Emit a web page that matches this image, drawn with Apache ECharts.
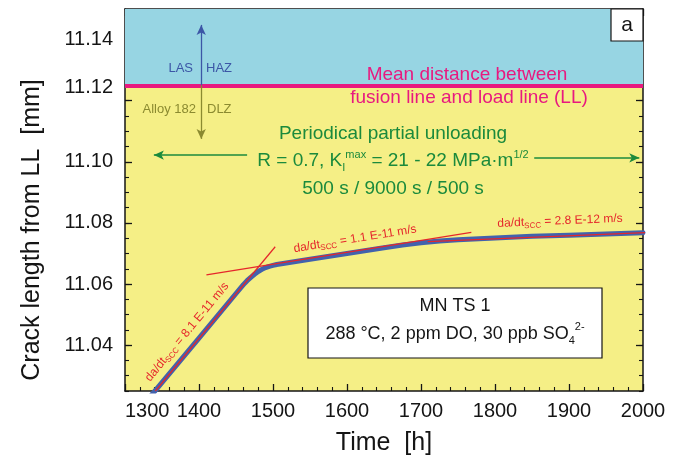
<!DOCTYPE html>
<html lang="en">
<head>
<meta charset="UTF-8">
<title>Crack length from LL vs time</title>
<script src="https://cdn.jsdelivr.net/npm/echarts@6/dist/echarts.min.js"></script>
<style>
    html, body { margin: 0; padding: 0; background: #fff; }
    #main { width: 682px; height: 461px; }
</style>
</head>
<body>
<div id="main"></div>
<script>
    // measured crack length (blue curve)
    var time  = [1336, 1400, 1450, 1460, 1465, 1470, 1475, 1480, 1485, 1490, 1495, 1500, 1505, 1550, 1600, 1650, 1675, 1700, 1725, 1750, 1800, 1850, 1900, 1950, 2000];
    var crack = [11.0237, 11.0423, 11.0569, 11.0598, 11.0611, 11.0622, 11.0632, 11.0641, 11.0648, 11.0654, 11.0658, 11.0661, 11.0664, 11.0681, 11.0700, 11.0719, 11.0728, 11.0735, 11.0741, 11.0745, 11.0751, 11.0756, 11.0760, 11.0764, 11.0768];

    // fitted da/dt lines (red)
    var fit1T = [1341, 1503],  fit1V = [11.025, 11.0722];   // 8.1 E-11 m/s
    var fit2T = [1410, 1768],  fit2V = [11.063, 11.0769];   // 1.1 E-11 m/s
    var fit3T = [1709, 2027],  fit3V = [11.0739, 11.0771];  // 2.8 E-12 m/s

    // axes
    var xTicks = [1300, 1400, 1500, 1600, 1700, 1800, 1900, 2000];
    var yTicks = [11.04, 11.06, 11.08, 11.10, 11.12, 11.14];
    var llLevel = 11.125;   // fusion line / load line distance

    function pairs(a, b) {
        return a.map(function (v, i) { return [v, b[i]]; });
    }

    var font = '"Liberation Sans", Arial, sans-serif';
    var ink = '#151515';
    var red = '#e5262b', green = '#1b8a3c', pink = '#e8197f', blue = '#3c56a6', olive = '#8b8a30';

    var axLine = { show: true, onZero: false, lineStyle: { color: ink, width: 1.5 } };

    function xAxisOf(pos) {
        return {
            type: 'value', position: pos, min: xTicks[0], max: xTicks[xTicks.length - 1], interval: 100,
            axisLine: axLine, splitLine: { show: false },
            axisTick: { show: true, inside: true, length: 7, lineStyle: { color: ink, width: 1.3 } },
            minorTick: { show: true, splitNumber: 5, length: 4, lineStyle: { color: ink, width: 1.1 } },
            axisLabel: pos === 'bottom' ? {
                fontFamily: font, fontSize: 20, color: ink, margin: 10,
                showMinLabel: true, showMaxLabel: true, hideOverlap: false, alignMinLabel: 'left',
                formatter: function (v) { return String(v); }
            } : { show: false },
            name: pos === 'bottom' ? 'Time  [h]' : '', nameLocation: 'middle', nameGap: 40, nameMoveOverlap: false,
            nameTextStyle: { fontFamily: font, fontSize: 25, color: ink }
        };
    }

    function yAxisOf(pos, major) {
        var ax = {
            type: 'value', position: pos, min: 11.025, max: 11.15, interval: 0.005,
            axisLine: major ? { show: false } : axLine, splitLine: { show: false },
            axisTick: { show: true, inside: true, length: major ? 7 : 4, lineStyle: { color: ink, width: major ? 1.3 : 1.1 } },
            axisLabel: { show: false }
        };
        if (major) ax.axisTick.customValues = yTicks;
        if (pos === 'left' && !major) {
            ax.axisLabel = {
                show: true, customValues: yTicks, fontFamily: font, fontSize: 20, color: ink, margin: 12,
                formatter: function (v) {
                    var s = v.toFixed(2);
                    // the 11.12 label sits a little higher in the original figure
                    return Math.abs(v - 11.12) < 1e-6 ? '{up|' + s + '}' : s;
                },
                rich: { up: { fontFamily: font, fontSize: 20, color: ink, padding: [0, 0, 26, 0] } }
            };
            ax.name = 'Crack length from LL  [mm]';
            ax.nameLocation = 'middle';
            ax.nameGap = 80;
            ax.nameMoveOverlap = false;
            ax.nameTextStyle = { fontFamily: font, fontSize: 25, color: ink, padding: [0, 60, 0, 0] };
        }
        return ax;
    }

    function txt(x, y, text, size, color, align, extra) {
        var el = {
            type: 'text', x: x, y: y, z: 20, silent: true,
            style: {
                text: text, fill: color, fontSize: size, fontFamily: font,
                align: align || 'center', textAlign: align || 'center',
                verticalAlign: 'middle', textVerticalAlign: 'middle'
            }
        };
        if (extra) {
            for (var k in extra) {
                if (k === 'rich') el.style.rich = extra.rich; else el[k] = extra[k];
            }
        }
        return el;
    }

    var redRich = {
        sub: { fontSize: 8, fill: red, fontFamily: font, padding: [7, 0, 0, 0] }
    };

    var chart = echarts.init(document.getElementById('main'), null, { renderer: 'canvas' });

    chart.setOption({
        backgroundColor: '#ffffff',
        animation: false,
        grid: {
            left: 125, right: 39, top: 9, bottom: 70, containLabel: false, outerBoundsMode: 'none',
            show: true, backgroundColor: '#f5ef86', borderWidth: 0
        },
        xAxis: [xAxisOf('bottom'), xAxisOf('top')],
        yAxis: [yAxisOf('left', false), yAxisOf('right', false), yAxisOf('left', true), yAxisOf('right', true)],
        series: [
            {
                name: 'crack', type: 'line', data: pairs(time, crack),
                showSymbol: false, smooth: false,
                lineStyle: { color: '#4262ad', width: 5, join: 'round', cap: 'round' }, z: 3,
                markArea: {
                    silent: true, itemStyle: { color: '#97d5e3' },
                    data: [[{ yAxis: llLevel }, { yAxis: 11.15 }]]
                },
                markLine: {
                    silent: true, symbol: ['none', 'none'], label: { show: false },
                    data: [
                        [{ coord: [1300, llLevel], lineStyle: { color: pink, width: 4, type: 'solid' } },
                         { coord: [2000, llLevel] }],
                        [{ coord: [1403, llLevel], lineStyle: { color: blue, width: 1.3, type: 'solid' } },
                         { coord: [1403, 11.1448], symbol: 'arrow', symbolSize: [7, 10] }],
                        [{ coord: [1403, llLevel], lineStyle: { color: olive, width: 1.3, type: 'solid' } },
                         { coord: [1403, 11.1075], symbol: 'arrow', symbolSize: [7, 10] }],
                        [{ coord: [1465, 11.1022], lineStyle: { color: green, width: 1.5, type: 'solid' } },
                         { coord: [1339, 11.1022], symbol: 'arrow', symbolSize: [7, 10] }],
                        [{ coord: [1853, 11.1013], lineStyle: { color: green, width: 1.5, type: 'solid' } },
                         { coord: [1995, 11.1013], symbol: 'arrow', symbolSize: [7, 10] }]
                    ]
                }
            },
            {
                name: 'fit1', type: 'line', data: pairs(fit1T, fit1V), showSymbol: false, z: 4,
                lineStyle: { color: red, width: 1.2 }
            },
            {
                name: 'fit2', type: 'line', data: pairs(fit2T, fit2V), showSymbol: false, z: 4,
                lineStyle: { color: red, width: 1.2 }
            },
            {
                name: 'fit3', type: 'line', data: pairs(fit3T, fit3V), showSymbol: false, z: 4, clip: false,
                lineStyle: { color: red, width: 1.2 }
            }
        ],
        graphic: [
            // panel letter
            { type: 'rect', z: 20, silent: true, shape: { x: 611, y: 9, width: 32, height: 32 },
              style: { fill: '#fff', stroke: ink, lineWidth: 1.2 } },
            txt(627, 25, 'a', 21, ink),

            // zone labels
            txt(193, 68, 'LAS', 13, blue, 'right'),
            txt(206, 68, 'HAZ', 13, blue, 'left'),
            txt(196, 109, 'Alloy 182', 13, olive, 'right'),
            txt(207, 109, 'DLZ', 13, olive, 'left'),

            txt(467, 75, 'Mean distance between', 19, pink),
            txt(469, 98, 'fusion line and load line (LL)', 19, pink),

            txt(393, 134, 'Periodical partial unloading', 19, green),
            txt(393, 161, 'R = 0.7, K{sub|I}{sup|max} = 21 - 22 MPa·m{sup|1/2}', 19, green, 'center', {
                rich: {
                    sub: { fontSize: 11, fill: green, fontFamily: font, padding: [13, 0, 0, 0] },
                    sup: { fontSize: 11, fill: green, fontFamily: font, padding: [0, 0, 13, 0] }
                }
            }),
            txt(393, 189, '500 s / 9000 s / 500 s', 19, green),

            // rate labels
            txt(187, 332, 'da/dt{sub|SCC} = 8.1 E-11 m/s', 12, red, 'center', { rotation: 50.4 * Math.PI / 180, rich: redRich }),
            txt(355, 239, 'da/dt{sub|SCC} = 1.1 E-11 m/s', 12, red, 'center', { rotation: 9.2 * Math.PI / 180, rich: redRich }),
            txt(560, 221, 'da/dt{sub|SCC} = 2.8 E-12 m/s', 12, red, 'center', { rotation: 2.4 * Math.PI / 180, rich: redRich }),

            // test conditions box
            { type: 'rect', z: 20, silent: true, shape: { x: 308, y: 288, width: 294, height: 70 },
              style: { fill: '#fff', stroke: ink, lineWidth: 1.2 } },
            txt(455, 306, 'MN TS 1', 18, ink),
            txt(455, 334, '288 °C, 2 ppm DO, 30 ppb SO{sub|4}{sup|2-}', 18, ink, 'center', {
                rich: {
                    sub: { fontSize: 11, fill: ink, fontFamily: font, padding: [14, 0, 0, 0] },
                    sup: { fontSize: 11, fill: ink, fontFamily: font, padding: [0, 0, 14, 0] }
                }
            })
        ]
    });
</script>
</body>
</html>
